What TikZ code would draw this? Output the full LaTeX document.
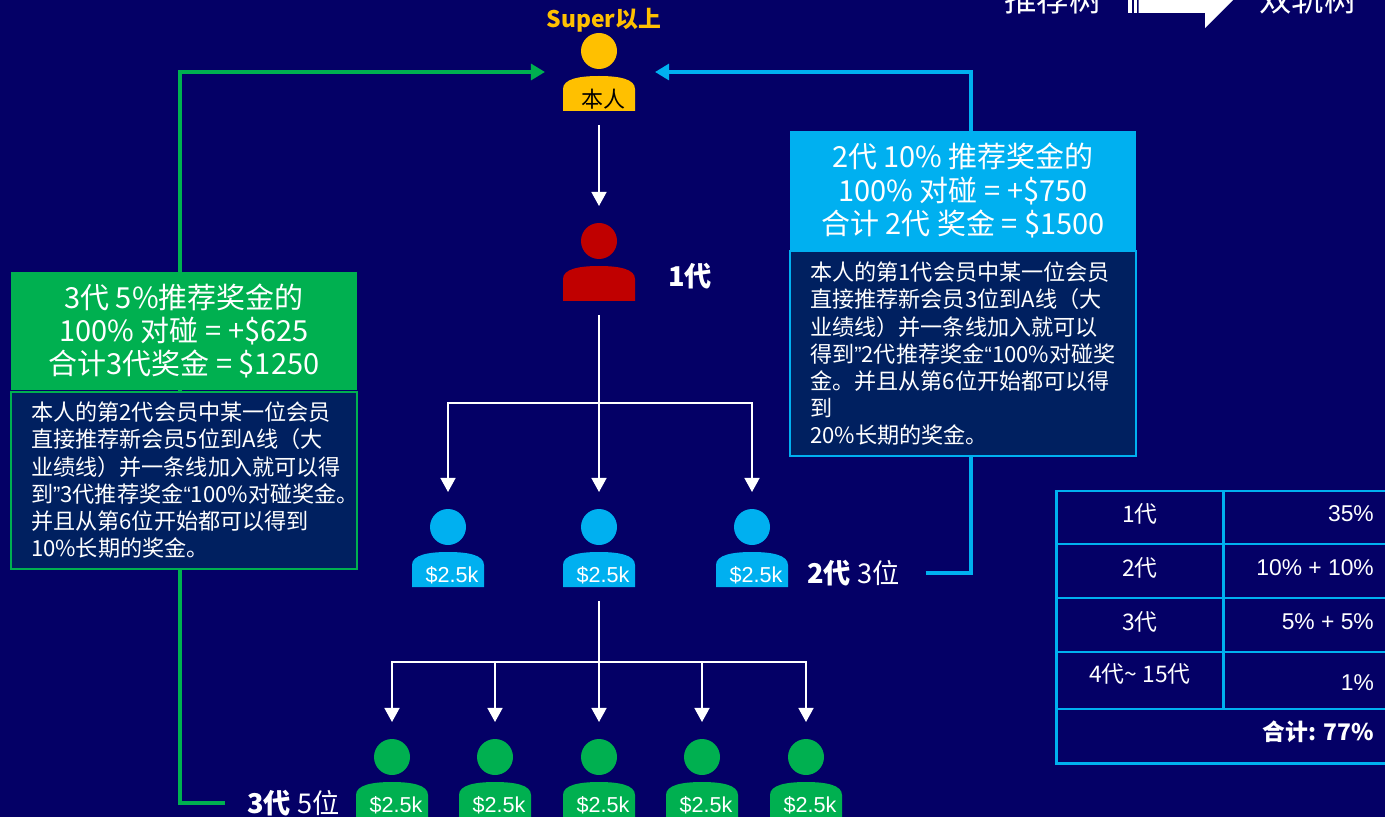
\documentclass[tikz,border=0pt]{standalone}
\usepackage{fontspec}
\setmainfont{Noto Sans CJK SC}
\newfontfamily\arialfont{Liberation Sans}
\usetikzlibrary{arrows.meta,positioning}
\definecolor{bgnavy}{RGB}{4,0,102}
\definecolor{deepblue}{RGB}{0,32,96}
\definecolor{mgreen}{RGB}{0,176,80}
\definecolor{skyblue}{RGB}{0,176,240}
\definecolor{mred}{RGB}{192,0,0}
\definecolor{gold}{RGB}{255,192,0}
\newcommand{\openq}{{\arialfont “}}
\newcommand{\closeq}{{\arialfont ”}}
% member icon: name, x, y (head centre), colour, label style, label
\newcommand{\drawmember}[6]{%
  \fill[#4] (#2,#3) circle[radius=18];
  \fill[#4] (#2-36,#3+60) -- (#2-36,#3+38) .. controls (#2-36,#3+28) and (#2-20,#3+25) .. (#2,#3+25)
    .. controls (#2+20,#3+25) and (#2+36,#3+28) .. (#2+36,#3+38) -- (#2+36,#3+60) -- cycle;
  \node[#5] (#1) at (#2+4,#3+48) {#6};
  \coordinate (#1-in) at (#2,#3-35);
  \coordinate (#1-out) at (#2,#3+74);
}
\begin{document}
\begin{tikzpicture}[x=0.02cm,y=-0.02cm]
	\tikzstyle{money} = [font=\arialfont\fontsize{12.3}{14}\selectfont,text=white,inner sep=0pt]
	\tikzstyle{selftext} = [font=\fontsize{12.5}{14}\selectfont,text=black,inner sep=0pt]
	\tikzstyle{genlabel} = [font=\fontsize{15.5}{18}\selectfont,text=white]
	\tikzstyle{plainline} = [draw=white,line width=1.1pt]
	\tikzstyle{tree} = [plainline,-{Triangle[width=8.5pt,length=8pt]}]
	\tikzstyle{backline} = [line width=2pt,-{Triangle[width=9pt,length=8pt]}]
	\tikzstyle{titlebox} = [text=white,align=center,minimum width=6.93cm,minimum height=2.37cm,inner sep=0pt,font=\fontsize{16.5}{18.8}\selectfont]
	\tikzstyle{descbox} = [fill=deepblue,text=white,align=left,text width=6.12cm,inner xsep=0.4cm,line width=1.2pt,font=\fontsize{12.6}{15.4}\selectfont]
	\tikzstyle{cellline} = [draw=skyblue,line width=1.7pt]
	\tikzstyle{cell} = [text=white,font=\fontsize{13}{15}\selectfont]
	\tikzstyle{numcell} = [text=white,anchor=east,font=\arialfont\fontsize{13}{15}\selectfont]
	\useasboundingbox (0,0) rectangle (1385,817);
	\fill[bgnavy] (0,0) rectangle (1385,817);
	\clip (0,0) rectangle (1385,817);
	% members
	\node[font=\bfseries\fontsize{13}{15}\selectfont,text=gold] (super) at (604,20) {Super以上};
	\drawmember{me}{599}{51}{gold}{selftext}{本人}
	\drawmember{red}{599}{241}{mred}{money}{}
	\drawmember{b1}{448}{527}{skyblue}{money}{\$2.5k}
	\drawmember{b2}{599}{527}{skyblue}{money}{\$2.5k}
	\drawmember{b3}{752}{527}{skyblue}{money}{\$2.5k}
	\drawmember{g1}{392}{757}{mgreen}{money}{\$2.5k}
	\drawmember{g2}{495}{757}{mgreen}{money}{\$2.5k}
	\drawmember{g3}{599}{757}{mgreen}{money}{\$2.5k}
	\drawmember{g4}{702}{757}{mgreen}{money}{\$2.5k}
	\drawmember{g5}{806}{757}{mgreen}{money}{\$2.5k}
	\node[genlabel,font=\bfseries\fontsize{15.5}{18}\selectfont] (gen1) at (690,276) {1代};
	\node[genlabel,anchor=west] (gen2) at (801,573) {\textbf{2代} 3位};
	\node[genlabel,anchor=west] (gen3) at (241,803) {\textbf{3代} 5位};
	% tree
	\coordinate (j1) at (599,403);
	\coordinate (j2) at (599,662);
	\draw[tree] (me-out) -- (red-in);
	\draw[plainline] (red-out) -- (j1);
	\foreach \n in {b1,b2,b3}
		\draw[tree] (j1) -| (\n-in);
	\draw[plainline] (b2-out) -- (j2);
	\foreach \n in {1,...,5}
		\draw[tree] (j2) -| (g\n-in);
	% lines back to the top
	\coordinate (me-l) at (545,72);
	\coordinate (me-r) at (655,72);
	\coordinate (gturn) at (180,803);
	\coordinate (bturn) at (971,573);
	\draw[backline,draw=mgreen,shorten <=0.32cm] (gen3.west) -- (gturn) |- (me-l);
	\draw[backline,draw=skyblue,shorten <=0.4cm] (gen2.east) -- (bturn) |- (me-r);
	% boxes
	\node[titlebox,fill=mgreen] (gtitle) at (184,331) {3代 5\%推荐奖金的\\100\% 对碰 = +\$625\\合计3代奖金 = \$1250};
	\node[descbox,draw=mgreen,minimum height=3.54cm,below=0pt of gtitle] (gdesc) {本人的第2代会员中某一位会员\\直接推荐新会员5位到A线（大\\业绩线）并一条线加入就可以得\\到\closeq 3代推荐奖金\openq 100\%对碰奖金。\\并且从第6位开始都可以得到\\10\%长期的奖金。};
	\node[titlebox,fill=skyblue] (btitle) at (963,190.5) {2代 10\% 推荐奖金的\\100\% 对碰 = +\$750\\合计 2代 奖金 = \$1500};
	\node[descbox,draw=skyblue,minimum height=4.1cm,below=0pt of btitle] (bdesc) {本人的第1代会员中某一位会员\\直接推荐新会员3位到A线（大\\业绩线）并一条线加入就可以\\得到\closeq 2代推荐奖金\openq 100\%对碰奖\\金。并且从第6位开始都可以得\\到\\20\%长期的奖金。};
	% table
	\draw[cellline] (1056,491) rectangle (1392,763);
	\foreach \y in {544,598,652,709}
		\draw[cellline] (1056,\y) -- (1392,\y);
	\draw[cellline] (1223,491) -- (1223,709);
	\node[cell] (r1) at (1140,514) {1代};
	\node[cell] (r2) at (1140,568) {2代};
	\node[cell] (r3) at (1140,622) {3代};
	\node[cell] (r4) at (1140,674) {4代\textasciitilde{} 15代};
	\node[numcell] (v1) at (1380,514) {35\%};
	\node[numcell] (v2) at (1380,568) {10\% + 10\%};
	\node[numcell] (v3) at (1380,622) {5\% + 5\%};
	\node[numcell] (v4) at (1380,683) {1\%};
	\node[cell,anchor=east,font=\bfseries\fontsize{13}{15}\selectfont] (total) at (1380,732) {合计: 77\%};
	% header, cut by the top edge
	\node[text=white,anchor=base,font=\fontsize{18.5}{20}\selectfont] (oldtree) at (1053,12) {推荐树};
	\node[text=white,anchor=base,font=\fontsize{18.5}{20}\selectfont] (newtree) at (1308,12) {双轨树};
	\fill[white] (1128,-33) rectangle (1131.5,13);
	\fill[white] (1133.5,-33) rectangle (1136.5,13);
	\fill[white] (1138.5,-33) -- (1205,-33) -- (1205,-48) -- (1243,-10) -- (1205,28) -- (1205,13) -- (1138.5,13) -- cycle;
\end{tikzpicture}
\end{document}
